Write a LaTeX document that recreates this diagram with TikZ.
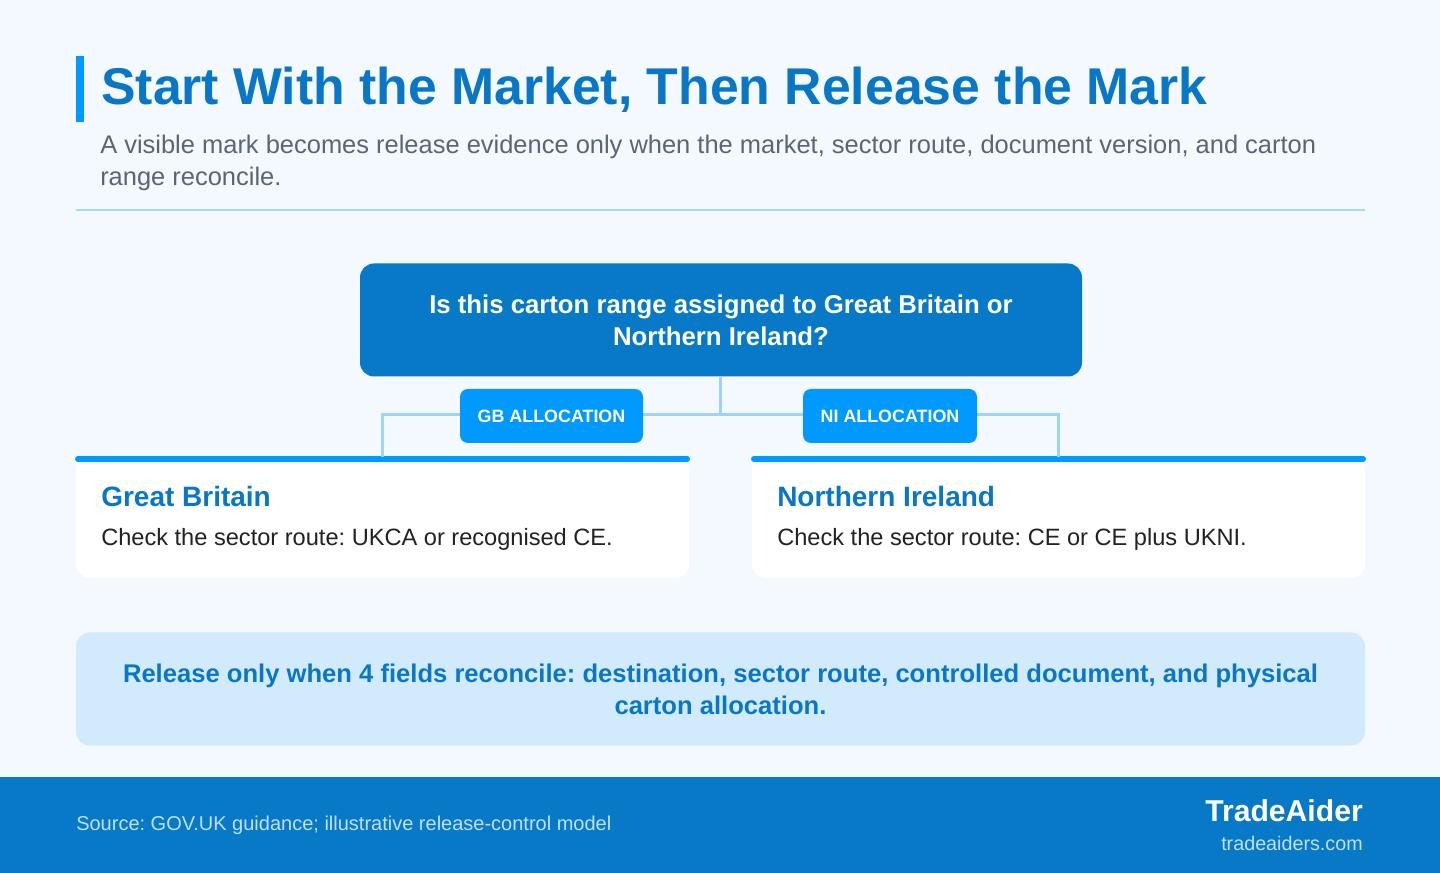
\documentclass[tikz,border=0pt]{standalone}
\usepackage{fontspec}
\setmainfont{Liberation Sans}
\frenchspacing
\definecolor{bg}{HTML}{F4F9FF}
\definecolor{titleblue}{HTML}{0A77C6}
\definecolor{accent}{HTML}{0099FF}
\definecolor{deep}{HTML}{0779C6}
\definecolor{connc}{HTML}{9ED3F8}
\definecolor{subgray}{HTML}{5C6577}
\definecolor{bodyc}{HTML}{222222}
\definecolor{bannerbg}{HTML}{D2EBFC}
\definecolor{footlight}{HTML}{BFE1FF}
\definecolor{divc}{HTML}{A6D8FA}
\tikzset{
  conn/.style={draw=connc, line width=2.25pt},
  decbox/.style={fill=deep, rounded corners=10.5pt, minimum width=541.5pt, minimum height=84.75pt, inner sep=0pt, text=white, align=center, font=\bfseries\fontsize{19.3}{24}\selectfont},
  tag/.style={fill=accent, rounded corners=6pt, minimum height=40.5pt, inner sep=0pt, text=white, font=\bfseries\fontsize{13.4}{14}\selectfont},
  card/.style={fill=white, rounded corners=10.5pt, minimum width=459.75pt, minimum height=91.5pt, inner sep=0pt},
  topbar/.style={draw=accent, line width=4.5pt, line cap=round},
  cardtitle/.style={anchor=base west, inner sep=0pt, text=titleblue, font=\bfseries\fontsize{21}{24}\selectfont},
  cardbody/.style={anchor=base west, inner sep=0pt, text=bodyc, font=\fontsize{17.7}{20}\selectfont},
}
\begin{document}
\begin{tikzpicture}[x=0.75pt,y=-0.75pt]
\fill[bg] (0,0) rectangle (1440,873);
\useasboundingbox (0,0) rectangle (1440,873);
% header
\fill[accent] (76,56) rectangle (84,122);
\node[anchor=base west, inner sep=0pt, text=titleblue, font=\bfseries\fontsize{38.8}{42}\selectfont] (title) at (101,105) {Start With the Market, Then Release the Mark};
\node[anchor=base west, inner sep=0pt, text=subgray, font=\fontsize{19.1}{24}\selectfont] (sub1) at (100,153.5) {A visible mark becomes release evidence only when the market, sector route, document version, and carton};
\node[anchor=base west, inner sep=0pt, text=subgray, font=\fontsize{19.1}{24}\selectfont] (sub2) at (100,185.5) {range reconcile.};
\draw[divc, line width=1.5pt] (76,210) -- (1365,210);
% cards
\node[card] (gb) at (382.5,517) {};
\node[card] (ni) at (1058.5,517) {};
\draw[topbar] (78,459) -- (687,459);
\draw[topbar] (754,459) -- (1363,459);
\node[cardtitle] (gbt) at (101,506.5) {Great Britain};
\node[cardbody] (gbb) at (101,545.5) {Check the sector route: UKCA or recognised CE.};
\node[cardtitle] (nit) at (777,506.5) {Northern Ireland};
\node[cardbody] (nib) at (777,545.5) {Check the sector route: CE or CE plus UKNI.};
% decision
\node[decbox] (dec) at (721,320) {Is this carton range assigned to Great Britain or\\Northern Ireland?};
\coordinate (j) at (720,415);
\coordinate (gbtop) at (382.5,457);
\coordinate (nitop) at (1058.5,457);
\draw[conn] (720,377) -- (j);
\draw[conn] (j) -| (gbtop);
\draw[conn] (j) -| (nitop);
\node[tag, minimum width=137.25pt] (gbtag) at (551.5,416) {GB ALLOCATION};
\node[tag, minimum width=130.5pt] (nitag) at (890,416) {NI ALLOCATION};
% banner
\node[fill=bannerbg, rounded corners=10.5pt, minimum width=966.75pt, minimum height=84.75pt, inner sep=0pt, text=titleblue, align=center, font=\bfseries\fontsize{19.2}{24}\selectfont] (banner) at (720.5,689) {Release only when 4 fields reconcile: destination, sector route, controlled document, and physical\\carton allocation.};
% footer
\fill[deep] (0,777) rectangle (1440,873);
\node[anchor=west, inner sep=0pt, text=footlight, font=\fontsize{15}{16}\selectfont] (src) at (76,825.5) {Source: GOV.UK guidance; illustrative release-control model};
\node[anchor=base east, inner sep=0pt, text=white, font=\bfseries\fontsize{22.6}{24}\selectfont] (brand) at (1363,821) {TradeAider};
\node[anchor=base east, inner sep=0pt, text=footlight, font=\fontsize{14.8}{16}\selectfont] (web) at (1363,850) {tradeaiders.com};
\end{tikzpicture}
\end{document}
